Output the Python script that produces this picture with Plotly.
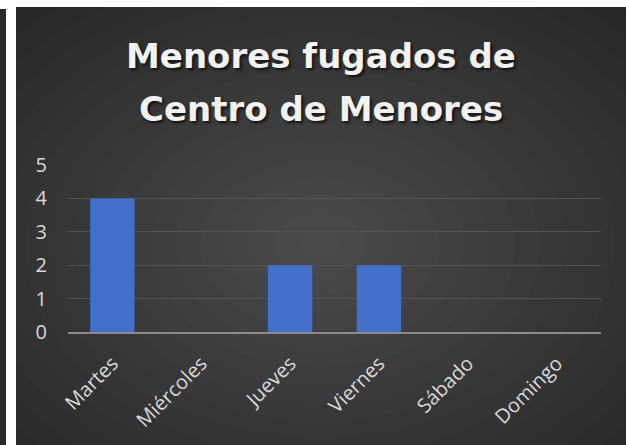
import plotly.graph_objects as go

dias = ["Martes", "Miércoles", "Jueves", "Viernes", "Sábado", "Domingo"]
fugados = [4, 0, 2, 2, 0, 0]
titulo = ["Menores fugados de", "Centro de Menores"]

W, H = 626, 445
ML, MR, MT, MB = 68, 25, 165, 113
pw, ph = W - ML - MR, H - MT - MB

def px(x):
    return (x - ML) / pw

def py(y):
    return (H - MB - y) / ph

fig = go.Figure()
fig.add_trace(go.Bar(
    x=dias, y=fugados,
    marker=dict(color="#4370cb", line=dict(width=0)),
    width=0.5,
    hoverinfo="skip",
))

shapes = []
# chart body
shapes.append(dict(type="rect", xref="paper", yref="paper",
                   x0=px(16), x1=px(W + 2), y0=py(7), y1=py(H + 2),
                   fillcolor="#222222", line=dict(width=0), layer="below"))
# radial glow, faint ellipses stacked
cx, cy = 320, 245
n = 20
for i in range(n):
    rx = 20 + i * 25
    ry = rx * 0.72
    shapes.append(dict(type="circle", xref="paper", yref="paper",
                       x0=px(cx - rx), x1=px(cx + rx),
                       y0=py(cy - ry), y1=py(cy + ry),
                       fillcolor="rgba(255,255,255,0.01)", line=dict(width=0),
                       layer="below"))
# white page margins + left strip
shapes.append(dict(type="rect", xref="paper", yref="paper",
                   x0=px(-2), x1=px(16), y0=py(-2), y1=py(H + 2),
                   fillcolor="white", line=dict(width=0), layer="below"))
shapes.append(dict(type="rect", xref="paper", yref="paper",
                   x0=px(-2), x1=px(W + 2), y0=py(-2), y1=py(7),
                   fillcolor="white", line=dict(width=0), layer="below"))
shapes.append(dict(type="rect", xref="paper", yref="paper",
                   x0=px(-2), x1=px(6), y0=py(9), y1=py(H + 2),
                   fillcolor="#2a2a2a", line=dict(width=0), layer="below"))

annotations = []
for i, t in enumerate(titulo):
    annotations.append(dict(
        text=t, xref="paper", yref="paper", x=px(321), y=py(56 + i * 53),
        showarrow=False, xanchor="center", yanchor="middle",
        font=dict(family="DejaVu Sans", size=34, color="#f2f2f2", weight="bold",
                  shadow="2px 2px 3px rgba(0,0,0,0.7)"),
    ))

fig.update_layout(
    width=W, height=H,
    margin=dict(l=ML, r=MR, t=MT, b=MB),
    paper_bgcolor="white",
    plot_bgcolor="rgba(0,0,0,0)",
    shapes=shapes,
    annotations=annotations,
    showlegend=False,
    bargap=0.5,
    xaxis=dict(
        showgrid=False, showline=True, linecolor="#8a8a8a", linewidth=2,
        tickangle=-45, ticks="", ticklabelstandoff=10,
        tickfont=dict(family="Open Sans", size=20, color="#d9d9d9"),
    ),
    yaxis=dict(
        range=[0, 5], dtick=1, showgrid=True, gridcolor="#525252", gridwidth=1,
        zeroline=False, showline=False, ticks="", ticklabelstandoff=20,
        tickfont=dict(family="Open Sans", size=20, color="#d9d9d9"),
    ),
)

fig.write_html("out.html", config={"displayModeBar": False},
               post_script="document.body.style.margin='0';document.body.style.overflow='hidden';")
